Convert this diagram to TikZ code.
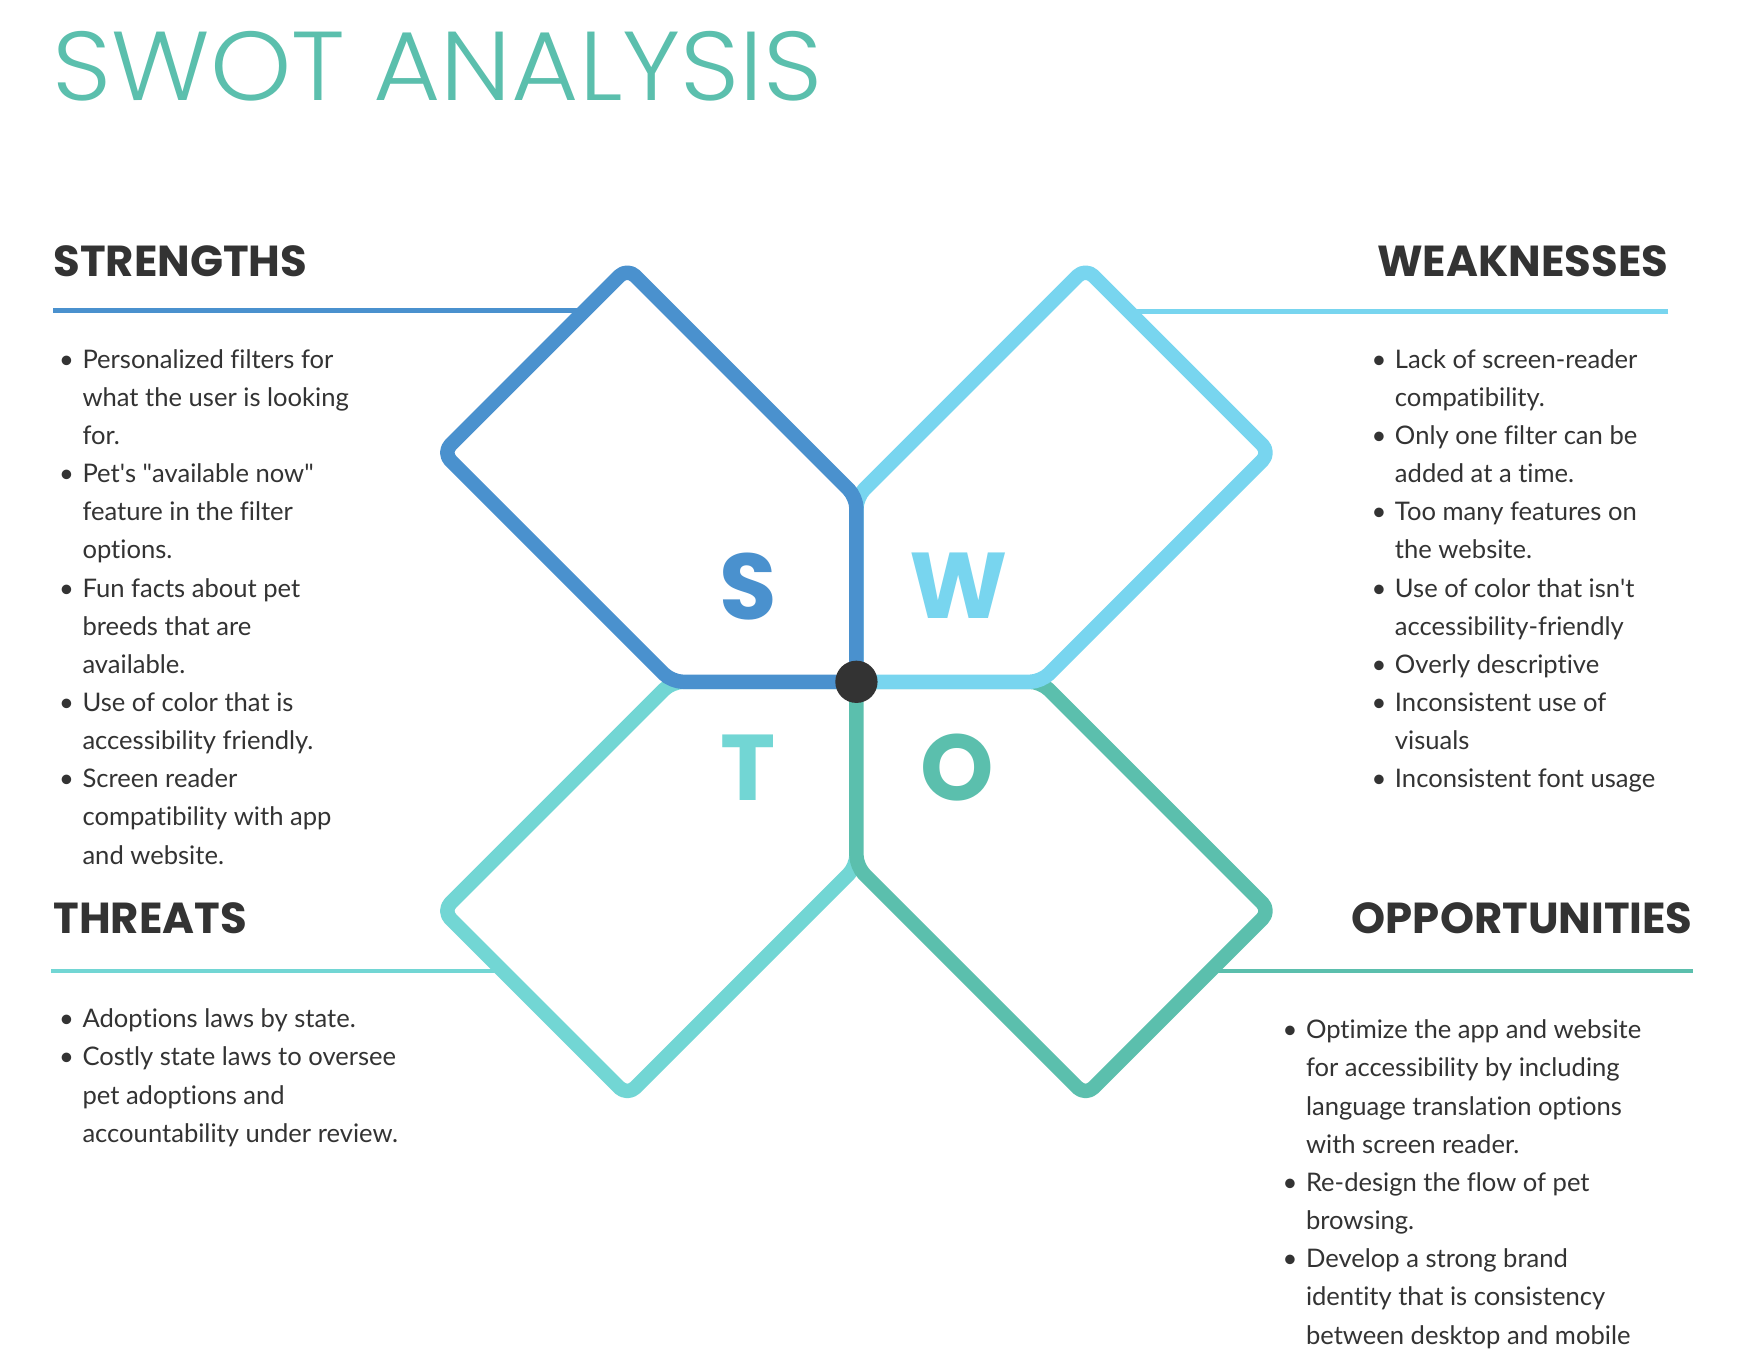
\documentclass[tikz,border=0pt]{standalone}
\usepackage{fontspec}
\setmainfont{Lato}[Ligatures={NoCommon}]
\IfFontExistsTF{Poppins Light}{\newfontfamily\titlefont{Poppins Light}}{\newfontfamily\titlefont{Poppins}}
\newfontfamily\headfont{Poppins}
\definecolor{sblue}{HTML}{4A91CE}
\definecolor{wblue}{HTML}{78D5EF}
\definecolor{tteal}{HTML}{72D6D4}
\definecolor{ogreen}{HTML}{5BBFAD}
\definecolor{ink}{HTML}{333333}
\newcommand\bul{\makebox[21pt][l]{\textbullet}}
\newcommand\ind{\hspace*{21pt}}
\begin{document}
\begin{tikzpicture}[x=1pt,y=-1pt,
  petal/.style={line width=13pt, fill=white, rounded corners=10pt, line join=round},
  rule/.style={line width=4pt},
  listtext/.style={anchor=base west, inner sep=0pt, text=ink, font=\fontsize{23}{34.3}\selectfont},
  head/.style={inner sep=0pt, text=ink, font=\headfont\bfseries\fontsize{39}{40}\selectfont},
  letter/.style={inner sep=0pt, font=\headfont\bfseries\fontsize{84}{90}\selectfont}]
\useasboundingbox (0,0) rectangle (1568,1225);
\fill[white] (0,0) rectangle (1568,1225);
\def\pa{166}\def\pb{206}
% title
\node[anchor=base west, inner sep=0pt, text=ogreen, font=\titlefont\fontsize{88}{90}\selectfont] (title) at (47,90) {\scalebox{1.055}[1]{SWOT ANALYSIS}};
% headings
\node[head, anchor=base west] (sh) at (48,249) {STRENGTHS};
\node[head, anchor=base east] (wh) at (1500,249) {WEAKNESSES};
\node[head, anchor=base west] (th) at (48,839) {THREATS};
\node[head, anchor=base east] (oh) at (1522,839) {OPPORTUNITIES};
% rules
\coordinate (s1) at (48,279); \coordinate (s2) at (545,279);
\coordinate (w1) at (1500,280); \coordinate (w2) at (995,280);
\coordinate (t1) at (46,873); \coordinate (t2) at (480,873);
\coordinate (o1) at (1522,873); \coordinate (o2) at (1060,873);
\draw[rule, sblue] (s1) -- (s2);
\draw[rule, wblue] (w1) -- (w2);
\draw[rule, tteal] (t1) -- (t2);
\draw[rule, ogreen] (o1) -- (o2);
% petals: T, O, W, S order
\draw[petal, draw=tteal] (770,613) -- (770,{613+\pa}) -- ({770-\pb},{613+\pa+\pb}) -- ({770-\pa-\pb},{613+\pb}) -- ({770-\pa},613) -- cycle;
\draw[petal, draw=ogreen] (770,613) -- ({770+\pa},613) -- ({770+\pa+\pb},{613+\pb}) -- ({770+\pb},{613+\pa+\pb}) -- (770,{613+\pa}) -- cycle;
\draw[petal, draw=wblue] (770,613) -- (770,{613-\pa}) -- ({770+\pb},{613-\pa-\pb}) -- ({770+\pa+\pb},{613-\pb}) -- ({770+\pa},613) -- cycle;
\draw[petal, draw=sblue] (770,613) -- (770,{613-\pa}) -- ({770-\pb},{613-\pa-\pb}) -- ({770-\pa-\pb},{613-\pb}) -- ({770-\pa},613) -- cycle;
\node[circle, fill=ink, minimum size=38pt, inner sep=0pt] (hub) at (770,613) {};
% letters
\node[letter, text=sblue] (ls) at (673,527) {S};
\node[letter, text=wblue] (lw) at (862,527) {W};
\node[letter, text=tteal] (lt) at (673,690) {T};
\node[letter, text=ogreen] (lo) at (861,690) {O};
% lists
\node[listtext] (slist) at (53,331) {\begin{tabular}[t]{@{}l@{}}
\bul Personalized filters for\\
\ind what the user is looking\\
\ind for.\\
\bul Pet\textquotesingle s \textquotedbl available now\textquotedbl\\
\ind feature in the filter\\
\ind options.\\
\bul Fun facts about pet\\
\ind breeds that are\\
\ind available.\\
\bul Use of color that is\\
\ind accessibility friendly.\\
\bul Screen reader\\
\ind compatibility with app\\
\ind and website.
\end{tabular}};
\node[listtext] (wlist) at (1233,331) {\begin{tabular}[t]{@{}l@{}}
\bul Lack of screen-reader\\
\ind compatibility.\\
\bul Only one filter can be\\
\ind added at a time.\\
\bul Too many features on\\
\ind the website.\\
\bul Use of color that isn\textquotesingle t\\
\ind accessibility-friendly\\
\bul Overly descriptive\\
\bul Inconsistent use of\\
\ind visuals\\
\bul Inconsistent font usage
\end{tabular}};
\node[listtext] (tlist) at (53,924) {\begin{tabular}[t]{@{}l@{}}
\bul Adoptions laws by state.\\
\bul Costly state laws to oversee\\
\ind pet adoptions and\\
\ind accountability under review.
\end{tabular}};
\node[listtext] (olist) at (1153,934) {\begin{tabular}[t]{@{}l@{}}
\bul Optimize the app and website\\
\ind for accessibility by including\\
\ind language translation options\\
\ind with screen reader.\\
\bul Re-design the flow of pet\\
\ind browsing.\\
\bul Develop a strong brand\\
\ind identity that is consistency\\
\ind between desktop and mobile
\end{tabular}};
\end{tikzpicture}
\end{document}
